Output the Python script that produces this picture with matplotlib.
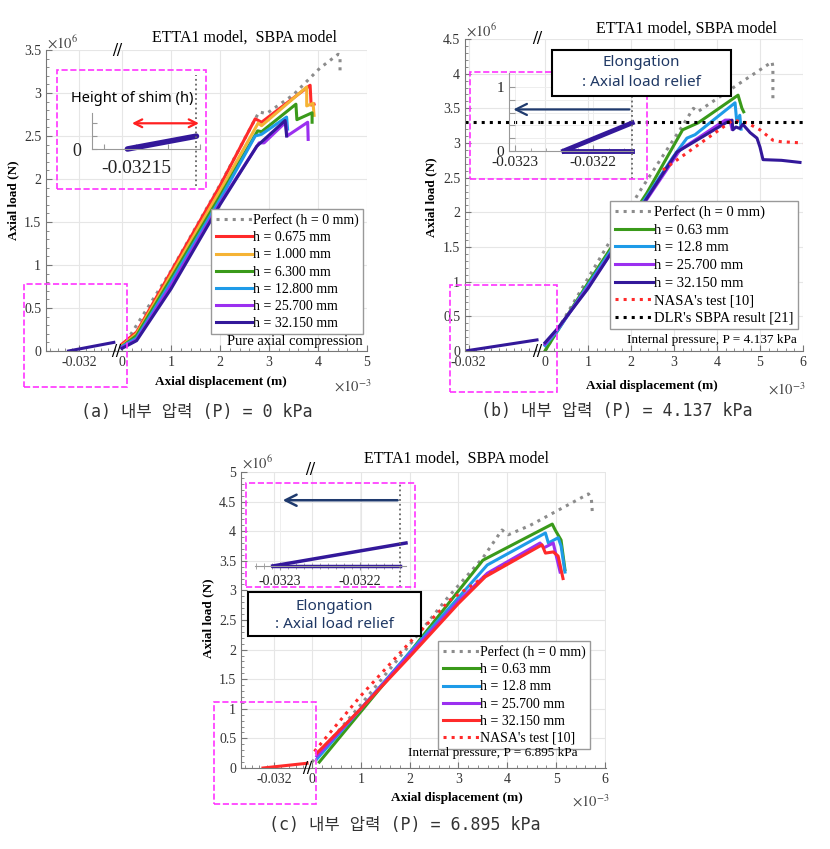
import matplotlib
matplotlib.use("Agg")
import matplotlib.pyplot as plt
from matplotlib.patches import Rectangle
from matplotlib.ticker import AutoMinorLocator, MultipleLocator, FuncFormatter

plt.rcParams['font.family'] = ['Liberation Serif', 'DejaVu Sans']
plt.rcParams['mathtext.fontset'] = 'stix'
plt.rcParams['axes.unicode_minus'] = False

W, H = 830, 849

C_GRAY = "#8c8c8c"
C_RED = "#ff2a2a"
C_ORANGE = "#f5b335"
C_GREEN = "#3a9a1a"
C_BLUE = "#1e9be8"
C_VIOLET = "#9b30f0"
C_NAVY = "#33189a"
C_ARROW = "#1f3a6e"
C_TXT = "#1f3864"
C_MAG = "#ff33ff"
SPINE = "#777777"

# ---------------- data (x: 1e-3 m, y: 1e6 N) ----------------
# (a) P = 0 kPa
a_perf_x = [0.0, 1.0, 2.0, 2.76, 2.8, 2.95, 3.5, 4.04, 4.41, 4.45, 4.45]
a_perf_y = [0.03, 0.93, 1.93, 2.74, 2.78, 2.76, 2.98, 3.29, 3.45, 3.44, 3.24]
a_h0675_x = [0.0, 0.3, 1.0, 2.0, 2.72, 2.85, 3.84, 3.86, 3.92]
a_h0675_y = [0.08, 0.22, 0.92, 1.92, 2.7, 2.66, 3.09, 2.86, 2.87]
a_h1000_x = [0.0, 0.3, 1.0, 2.0, 2.78, 2.85, 3.77, 3.77, 3.9, 3.92]
a_h1000_y = [0.06, 0.2, 0.88, 1.86, 2.65, 2.62, 3.07, 2.85, 2.88, 2.74]
a_h6300_x = [0.0, 0.3, 1.0, 2.0, 2.77, 2.85, 3.55, 3.57, 3.88, 3.88]
a_h6300_y = [0.05, 0.18, 0.84, 1.8, 2.56, 2.55, 2.87, 2.69, 2.77, 2.66]
a_h12800_x = [0.0, 0.3, 1.0, 2.0, 2.72, 2.85, 3.36, 3.38]
a_h12800_y = [0.05, 0.15, 0.8, 1.76, 2.5, 2.52, 2.72, 2.58]
a_h25700_x = [0.0, 0.3, 1.0, 2.0, 2.8, 2.9, 3.34, 3.37, 3.79, 3.8]
a_h25700_y = [0.04, 0.13, 0.76, 1.72, 2.42, 2.42, 2.66, 2.5, 2.66, 2.46]
a_h32150_x = [0.0, 0.3, 1.0, 2.0, 2.75, 3.33, 3.36]
a_h32150_y = [0.03, 0.12, 0.72, 1.7, 2.38, 2.68, 2.5]
a_shim_x = [-0.03215, -0.03152]          # m, left (broken) segment
a_shim_y = [0.0, 0.1]
a_zoom_x = [-0.032155, -0.032116]        # m, inset
a_zoom_y = [0.0, 0.05]

# (b) P = 4.137 kPa
b_perf_x = [0.0, 1.0, 2.2, 3.2, 3.45, 3.55, 4.5, 5.28, 5.3, 5.3]
b_perf_y = [0.0, 1.05, 2.3, 3.25, 3.5, 3.45, 3.85, 4.17, 4.1, 3.6]
b_h063_x = [0.0, 0.3, 1.0, 2.37, 3.2, 3.56, 4.49, 4.58, 4.62]
b_h063_y = [0.0, 0.3, 0.98, 2.28, 3.19, 3.29, 3.69, 3.5, 3.45]
b_h128_x = [0.0, 0.3, 1.0, 2.98, 3.3, 3.49, 4.42, 4.46, 4.53, 4.56]
b_h128_y = [0.08, 0.3, 0.95, 2.8, 3.07, 3.12, 3.58, 3.3, 3.4, 3.2]
b_h257_x = [0.0, 0.3, 1.0, 3.14, 4.19, 4.3, 4.35]
b_h257_y = [0.1, 0.32, 0.92, 2.9, 3.33, 3.33, 3.2]
b_h3215_x = [0.0, 0.3, 1.0, 3.07, 4.23, 4.35, 4.37, 4.44, 4.53, 4.6, 4.77, 4.93, 5.0, 5.07, 5.5, 5.93]
b_h3215_y = [0.12, 0.33, 0.9, 2.87, 3.3, 3.33, 3.19, 3.23, 3.21, 3.27, 3.15, 3.07, 2.94, 2.76, 2.75, 2.72]
b_nasa_x = [2.74, 4.37, 4.7, 5.0, 5.3, 5.47, 6.0]
b_nasa_y = [2.61, 3.33, 3.29, 3.19, 3.04, 3.02, 3.0]
b_dlr_y = 3.3
b_shim_x = [-0.03205, -0.03109]
b_shim_y = [0.0, 0.16]
b_zoom_x = [-0.032238, -0.03215]
b_zoom_y = [0.0, 0.44]
b_zoom_flat = [0.0, 0.0]

# (c) P = 6.895 kPa
c_perf_x = [0.0, 1.0, 2.0, 2.77, 3.5, 3.89, 4.02, 4.47, 5.66, 5.72, 5.74]
c_perf_y = [0.1, 1.07, 2.08, 2.87, 3.55, 4.02, 3.94, 4.1, 4.63, 4.55, 4.32]
c_h063_x = [0.15, 1.0, 2.0, 2.93, 3.5, 4.92, 4.98, 5.1, 5.18]
c_h063_y = [0.1, 0.95, 1.95, 2.92, 3.51, 4.12, 4.02, 3.85, 3.35]
c_h128_x = [0.1, 1.0, 2.0, 3.0, 3.59, 4.78, 4.84, 5.04, 5.1, 5.18]
c_h128_y = [0.15, 1.0, 1.95, 2.88, 3.43, 3.97, 3.8, 3.89, 3.75, 3.31]
c_h257_x = [0.1, 1.0, 2.0, 3.0, 3.59, 4.67, 4.75, 4.94, 5.08]
c_h257_y = [0.2, 1.0, 1.92, 2.82, 3.29, 3.8, 3.72, 3.8, 3.31]
c_h3215_x = [0.1, 1.0, 2.0, 3.0, 3.55, 4.71, 4.78, 4.94, 5.04, 5.14]
c_h3215_y = [0.25, 1.0, 1.88, 2.78, 3.23, 3.77, 3.63, 3.65, 3.58, 3.2]
c_nasa_x = [0.05, 1.0, 2.0, 2.83, 3.3, 3.6, 4.0, 4.2]
c_nasa_y = [0.28, 1.22, 2.12, 2.84, 3.1, 3.27, 3.45, 3.55]
c_shim_x = [-0.03215, -0.03155]
c_shim_y = [0.0, 0.08]
c_zoom_x = [-0.032309, -0.032143]
c_zoom_y = [0.0, 0.36]
c_flat_x = [-0.032309, -0.03215]
c_flat_y = [0.0, 0.0]

fig = plt.figure(figsize=(W / 100, H / 100), dpi=100)


def px_axes(x0, y0, x1, y1):
    return fig.add_axes([x0 / W, 1 - y1 / H, (x1 - x0) / W, (y1 - y0) / H])


def ftext(px, py, s, **kw):
    fig.text(px / W, 1 - py / H, s, **kw)


def frect(x0, y0, x1, y1, **kw):
    fig.add_artist(Rectangle((x0 / W, 1 - y1 / H), (x1 - x0) / W, (y1 - y0) / H,
                             transform=fig.transFigure, **kw))


def panel(box, split, ymax, left_xlim, right_xlim, ntick):
    x0, y0, x1, y1 = box
    axl = px_axes(x0, y0, split, y1)
    axr = px_axes(split, y0, x1, y1)
    for ax in (axl, axr):
        ax.set_ylim(0, ymax)
        ax.yaxis.set_major_locator(MultipleLocator(0.5))
        ax.yaxis.set_minor_locator(AutoMinorLocator(5))
        ax.yaxis.set_major_formatter(FuncFormatter(lambda v, p: "%g" % v))
        ax.grid(True, which="major", color="#e6e6e6", lw=0.8)
        ax.set_axisbelow(True)
        for s in ("top", "right"):
            ax.spines[s].set_visible(False)
        for s in ("left", "bottom"):
            ax.spines[s].set_color(SPINE)
        ax.tick_params(which="both", direction="in", color=SPINE,
                       labelsize=10, labelcolor="#333333")
        ax.tick_params(which="major", length=4)
        ax.tick_params(which="minor", length=2)
    axr.spines["left"].set_visible(False)
    axr.tick_params(axis="y", which="both", left=False, labelleft=False)
    axl.set_xlim(*left_xlim)
    axl.set_xticks([-0.032], ["-0.032"])
    axl.xaxis.set_minor_locator(MultipleLocator(0.0001))
    axr.set_xlim(*right_xlim)
    axr.set_xticks(range(0, ntick + 1))
    axr.xaxis.set_minor_locator(AutoMinorLocator(5))
    return axl, axr


def inset(box, xlim, ylim):
    ax = px_axes(*box)
    ax.set_facecolor("none")
    ax.set_xlim(*xlim)
    ax.set_ylim(*ylim)
    for s in ("top", "right"):
        ax.spines[s].set_visible(False)
    for s in ("left", "bottom"):
        ax.spines[s].set_color("#999999")
    ax.tick_params(which="both", direction="in", color="#999999",
                   labelsize=11, labelcolor="#222222")
    return ax


def breaks(xb, yb, xt, yt):
    for x, y in ((xb, yb), (xt, yt)):
        ftext(x, y, "//", fontsize=13, fontweight="bold", ha="center", va="center")


leg_kw = dict(loc="upper right", bbox_transform=fig.transFigure, fancybox=False,
              framealpha=1, edgecolor="#999999", handlelength=2.6, handletextpad=0.1,
              labelspacing=0.3, borderpad=0.3, borderaxespad=0)
LW = 2.2

# ====================== (a) ======================
axl, axr = panel((46, 50, 367, 351), 116, 3.5, (-0.032462, -0.03149), (-0.12, 5.0), 5)
axl.plot(a_shim_x, a_shim_y, color=C_NAVY, lw=LW)
axr.plot(a_perf_x, a_perf_y, ls=":", color=C_GRAY, lw=LW, label="Perfect (h = 0 mm)")
axr.plot(a_h0675_x, a_h0675_y, color=C_RED, lw=LW, label="h = 0.675 mm")
axr.plot(a_h1000_x, a_h1000_y, color=C_ORANGE, lw=LW, label="h = 1.000 mm")
axr.plot(a_h6300_x, a_h6300_y, color=C_GREEN, lw=LW, label="h = 6.300 mm")
axr.plot(a_h12800_x, a_h12800_y, color=C_BLUE, lw=LW, label="h = 12.800 mm")
axr.plot(a_h25700_x, a_h25700_y, color=C_VIOLET, lw=LW, label="h = 25.700 mm")
axr.plot(a_h32150_x, a_h32150_y, color=C_NAVY, lw=LW, label="h = 32.150 mm")
axr.legend(bbox_to_anchor=(363 / W, 1 - 209 / H), fontsize=10, **leg_kw)
ftext(363, 341, "Pure axial compression", fontsize=10.5, ha="right", va="center")
ftext(244, 38, "ETTA1 model,  SBPA model", fontsize=11.5, ha="center", va="center")
ftext(47, 43, r"$\times10^{6}$", fontsize=10.5, ha="left", va="center", color="#444444")
ftext(334, 386, r"$\times10^{-3}$", fontsize=10.5, ha="left", va="center", color="#444444")
ftext(13, 200, "Axial load (N)", fontsize=9.5, fontweight="bold", rotation=90, ha="center", va="center")
ftext(221, 382, "Axial displacement (m)", fontsize=9.5, fontweight="bold", ha="center", va="center")
breaks(116, 352, 117, 52)

ia = inset((92, 113, 200, 149), (-0.032175, -0.032115), (0, 0.14))
ia.plot(a_zoom_x, a_zoom_y, color=C_NAVY, lw=4, solid_capstyle="round", clip_on=False)
ia.set_yticks([0, 0.05, 0.1], ["0", "", ""])
ia.set_xticks([-0.032168, -0.03215, -0.032132, -0.032114], ["", "-0.03215", "", ""])
ia.tick_params(axis="y", labelsize=13, pad=8)
ia.tick_params(axis="x", labelsize=14, pad=8)
ia.axvline(-0.032116, ymin=-1.03, ymax=2.06, clip_on=False, ls=":", color="#666666", lw=1.3)
ia.annotate("", xy=(-0.032113, 0.1), xytext=(-0.032154, 0.1), annotation_clip=False,
            arrowprops=dict(arrowstyle="<->", color="#ff2020", lw=1.6, mutation_scale=14))
ftext(132, 99, "Height of shim (h)", family="Noto Sans", fontsize=10.5, ha="center", va="center")
frect(57, 70, 206, 189, fill=False, ec=C_MAG, ls="--", lw=1.2)
frect(24, 284, 127, 387, fill=False, ec=C_MAG, ls="--", lw=1.2)

# ====================== (b) ======================
axl, axr = panel((465, 39, 803, 351), 540, 4.5, (-0.03205, -0.03105), (-0.116, 6.0), 6)
axl.plot(b_shim_x, b_shim_y, color=C_NAVY, lw=LW)
axl.axhline(b_dlr_y, ls=":", color="black", lw=LW)
axr.plot(b_perf_x, b_perf_y, ls=":", color=C_GRAY, lw=LW, label="Perfect (h = 0 mm)")
axr.plot(b_h063_x, b_h063_y, color=C_GREEN, lw=LW, label="h = 0.63 mm")
axr.plot(b_h128_x, b_h128_y, color=C_BLUE, lw=LW, label="h = 12.8 mm")
axr.plot(b_h257_x, b_h257_y, color=C_VIOLET, lw=LW, label="h = 25.700 mm")
axr.plot(b_h3215_x, b_h3215_y, color=C_NAVY, lw=LW, label="h = 32.150 mm")
axr.plot(b_nasa_x, b_nasa_y, ls=":", color=C_RED, lw=LW, label="NASA's test [10]")
axr.axhline(b_dlr_y, ls=":", color="black", lw=LW, label="DLR's SBPA result [21]")
axr.legend(bbox_to_anchor=(798 / W, 1 - 201 / H), fontsize=10.5, **leg_kw)
ftext(797, 340, "Internal pressure, P = 4.137 kPa", fontsize=9.5, ha="right", va="center")
ftext(686, 29, "ETTA1 model, SBPA model", fontsize=11.5, ha="center", va="center")
ftext(466, 31, r"$\times10^{6}$", fontsize=10.5, ha="left", va="center", color="#444444")
ftext(768, 389, r"$\times10^{-3}$", fontsize=10.5, ha="left", va="center", color="#444444")
ftext(431, 197, "Axial load (N)", fontsize=9.5, fontweight="bold", rotation=90, ha="center", va="center")
ftext(652, 386, "Axial displacement (m)", fontsize=9.5, fontweight="bold", ha="center", va="center")
breaks(537, 352, 537, 40)

ib = inset((509, 73, 633, 151), (-0.032308, -0.032149), (0, 1.22))
ib.grid(True, color="#eeeeee", lw=0.7)
ib.plot(b_zoom_x, b_zoom_y, color=C_NAVY, lw=3.5, clip_on=False)
ib.plot(b_zoom_x, b_zoom_flat, color=C_NAVY, lw=3.5, clip_on=False)
ib.set_yticks([0, 0.2, 0.4, 0.6, 0.8, 1.0], ["0", "", "", "", "", "1"])
ib.set_xticks([-0.0323, -0.0322], ["-0.0323", "-0.0322"])
ib.xaxis.set_minor_locator(MultipleLocator(0.00002))
ib.tick_params(which="major", length=4)
ib.tick_params(which="minor", length=2)
ib.axvline(-0.03215, ymin=-0.36, ymax=0.705, clip_on=False, ls=":", color="#666666", lw=1.3)
ib.annotate("", xy=(-0.032306, 0.65), xytext=(-0.03215, 0.65), annotation_clip=False,
            arrowprops=dict(arrowstyle="->", color=C_ARROW, lw=1.6, mutation_scale=20))
frect(470, 72, 647, 179, fill=False, ec=C_MAG, ls="--", lw=1.2, zorder=5)
frect(450, 285, 557, 392, fill=False, ec=C_MAG, ls="--", lw=1.2, zorder=5)
frect(552, 50, 731, 96, fc="white", ec="black", lw=1.5, zorder=6)
ftext(641, 63, "Elongation", family="Noto Sans", fontsize=11, color=C_TXT, ha="center", va="center", zorder=7)
ftext(641, 82, ": Axial load relief", family="Noto Sans", fontsize=11, color=C_TXT, ha="center", va="center", zorder=7)

# ====================== (c) ======================
axl, axr = panel((241, 472, 606, 768), 310, 5.0, (-0.032449, -0.03151), (-0.04, 6.02), 6)
axl.plot(c_shim_x, c_shim_y, color=C_RED, lw=LW)
axr.plot(c_perf_x, c_perf_y, ls=":", color=C_GRAY, lw=LW, label="Perfect (h = 0 mm)")
axr.plot(c_h063_x, c_h063_y, color=C_GREEN, lw=LW, label="h = 0.63 mm")
axr.plot(c_h128_x, c_h128_y, color=C_BLUE, lw=LW, label="h = 12.8 mm")
axr.plot(c_h257_x, c_h257_y, color=C_VIOLET, lw=LW, label="h = 25.700 mm")
axr.plot(c_h3215_x, c_h3215_y, color=C_RED, lw=LW, label="h = 32.150 mm")
axr.plot(c_nasa_x, c_nasa_y, ls=":", color=C_RED, lw=LW, label="NASA's test [10]")
axr.legend(bbox_to_anchor=(590 / W, 1 - 641 / H), fontsize=10, **leg_kw)
ftext(578, 753, "Internal pressure, P = 6.895 kPa", fontsize=9.5, ha="right", va="center")
ftext(456, 459, "ETTA1 model,  SBPA model", fontsize=11.5, ha="center", va="center")
ftext(242, 463, r"$\times10^{6}$", fontsize=10.5, ha="left", va="center", color="#444444")
ftext(572, 801, r"$\times10^{-3}$", fontsize=10.5, ha="left", va="center", color="#444444")
ftext(208, 618, "Axial load (N)", fontsize=9.5, fontweight="bold", rotation=90, ha="center", va="center")
ftext(457, 798, "Axial displacement (m)", fontsize=9.5, fontweight="bold", ha="center", va="center")
breaks(307, 769, 310, 470)

ic = inset((255, 483, 406, 566), (-0.032331, -0.032143), (0, 1.3))
ic.spines["left"].set_visible(False)
ic.tick_params(axis="y", left=False, labelleft=False)
ic.grid(True, axis="x", color="#eeeeee", lw=0.7)
ic.plot(c_zoom_x, c_zoom_y, color=C_NAVY, lw=2.5, clip_on=False)
ic.plot(c_flat_x, c_flat_y, color=C_NAVY, lw=2.5, clip_on=False)
ic.set_xticks([-0.0323, -0.0322], ["-0.0323", "-0.0322"])
ic.xaxis.set_minor_locator(MultipleLocator(0.00001))
ic.tick_params(axis="x", which="both", direction="inout", labelsize=10)
ic.tick_params(which="major", length=6)
ic.tick_params(which="minor", length=4)
ic.axvline(-0.03215, ymin=-0.25, ymax=1.0, clip_on=False, ls=":", color="#666666", lw=1.3)
ic.annotate("", xy=(-0.0323, 1.03), xytext=(-0.03215, 1.03), annotation_clip=False,
            arrowprops=dict(arrowstyle="->", color=C_ARROW, lw=1.8, mutation_scale=20))
frect(246, 483, 415, 587, fill=False, ec=C_MAG, ls="--", lw=1.2, zorder=5)
frect(214, 702, 316, 804, fill=False, ec=C_MAG, ls="--", lw=1.2, zorder=5)
frect(248, 592, 421, 636, fc="white", ec="black", lw=1.5, zorder=6)
ftext(334, 606, "Elongation", family="Noto Sans", fontsize=11, color=C_TXT, ha="center", va="center", zorder=7)
ftext(334, 624, ": Axial load relief", family="Noto Sans", fontsize=11, color=C_TXT, ha="center", va="center", zorder=7)

# captions
cap = dict(family=["DejaVu Sans Mono", "Noto Sans CJK KR"], fontsize=12, color="#333333",
           ha="center", va="center")
ftext(197, 412, "(a) 내부 압력 (P) = 0 kPa", **cap)
ftext(617, 411, "(b) 내부 압력 (P) = 4.137 kPa", **cap)
ftext(405, 825, "(c) 내부 압력 (P) = 6.895 kPa", **cap)

fig.savefig("out.png", dpi=100)
